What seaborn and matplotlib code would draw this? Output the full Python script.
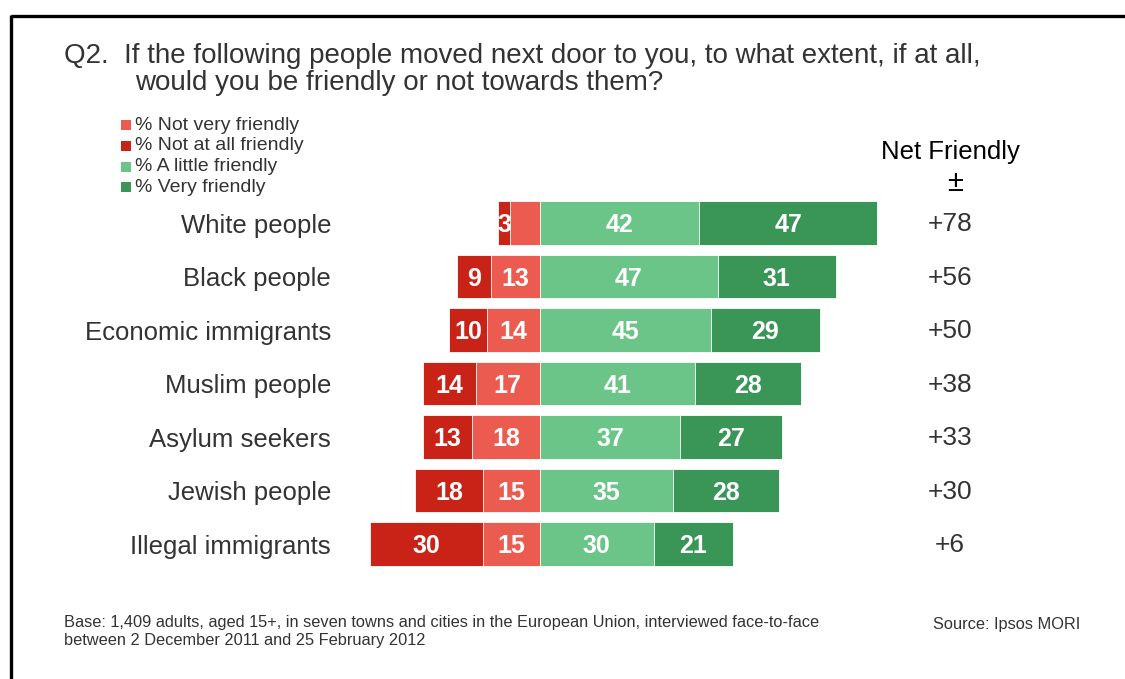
import matplotlib
matplotlib.use("Agg")
import matplotlib.pyplot as plt
from matplotlib.lines import Line2D
from matplotlib.patches import Rectangle
from matplotlib.transforms import blended_transform_factory
import seaborn as sns
import pandas as pd

# Survey responses (%), one row per group
groups = ["White people", "Black people", "Economic immigrants", "Muslim people",
          "Asylum seekers", "Jewish people", "Illegal immigrants"]
not_at_all = [3, 9, 10, 14, 13, 18, 30]
not_very = [8, 13, 14, 17, 18, 15, 15]
a_little = [42, 47, 45, 41, 37, 35, 30]
very = [47, 31, 29, 28, 27, 28, 21]
# segments shown without a value label: (group index, series)
unlabelled = {(0, "not_very")}

C_NOT_VERY = "#EB5B50"
C_NOT_AT_ALL = "#C92317"
C_LITTLE = "#6CC588"
C_VERY = "#3A9657"
TXT = "#333333"

sns.set_theme(style="white")
plt.rcParams["font.family"] = ["Liberation Sans", "DejaVu Sans"]

df = pd.DataFrame({
    "group": groups,
    "not_at_all": not_at_all,
    "not_very": not_very,
    "a_little": a_little,
    "very": very,
})
df["neg_total"] = -(df["not_at_all"] + df["not_very"])
df["neg_inner"] = -df["not_very"]
df["pos_total"] = df["a_little"] + df["very"]
df["pos_inner"] = df["a_little"]
df["net"] = df["pos_total"] + df["neg_total"]

fig = plt.figure(figsize=(11.25, 6.79), dpi=100)
ax = fig.add_axes([0.3251, 0.1594, 0.4580, 0.5515])

bar_kw = dict(y="group", orient="h", width=0.82, saturation=1, ax=ax,
              edgecolor="white", linewidth=0.6, order=groups)
# outer (cumulative) segments first, inner segments on top
sns.barplot(data=df, x="neg_total", color=C_NOT_AT_ALL, **bar_kw)
sns.barplot(data=df, x="neg_inner", color=C_NOT_VERY, **bar_kw)
sns.barplot(data=df, x="pos_total", color=C_VERY, **bar_kw)
sns.barplot(data=df, x="pos_inner", color=C_LITTLE, **bar_kw)

ax.set_xlim(-46, 90)
ax.set_ylim(6.5, -0.5)
ax.set_xlabel("")
ax.set_ylabel("")
ax.set_xticks([])
for s in ax.spines.values():
    s.set_visible(False)
ax.tick_params(axis="y", length=0, pad=25, labelsize=18.5, labelcolor=TXT)

# value labels centred in each segment
lab_kw = dict(ha="center", va="center", color="white", fontsize=18, fontweight="bold")
net_tr = blended_transform_factory(fig.transFigure, ax.transData)
for i, row in df.iterrows():
    segs = [
        ("not_at_all", -(row.not_very + row.not_at_all / 2), row.not_at_all),
        ("not_very", -row.not_very / 2, row.not_very),
        ("a_little", row.a_little / 2, row.a_little),
        ("very", row.a_little + row.very / 2, row.very),
    ]
    for name, xc, val in segs:
        if (i, name) in unlabelled:
            continue
        ax.text(xc, i + 0.04, f"{val}", **lab_kw)
    ax.text(0.8445, i + 0.02, f"{row.net:+d}", transform=net_tr,
            ha="center", va="center", fontsize=19, color=TXT)

# Net column header
fig.text(0.8445, 1 - 152 / 679, "Net Friendly", ha="center", va="center", fontsize=18.5, color="black")
fig.text(955 / 1125, 1 - 183 / 679, "±", ha="center", va="center", fontsize=21, color="black")

# title
fig.text(64 / 1125, 1 - 56 / 679,
         "Q2.  If the following people moved next door to you, to what extent, if at all,",
         ha="left", va="center", fontsize=20, color=TXT)
fig.text(135 / 1125, 1 - 83 / 679, "would you be friendly or not towards them?",
         ha="left", va="center", fontsize=20, color=TXT)

# legend
legend_items = [("% Not very friendly", C_NOT_VERY), ("% Not at all friendly", C_NOT_AT_ALL),
                ("% A little friendly", C_LITTLE), ("% Very friendly", C_VERY)]
for k, (name, col) in enumerate(legend_items):
    yc = 1 - (125 + k * 20.8) / 679
    fig.add_artist(Rectangle((121 / 1125, yc - 5 / 679), 10 / 1125, 10 / 679,
                             transform=fig.transFigure, color=col, lw=0))
    fig.text(135 / 1125, yc, name, ha="left", va="center", fontsize=14, color=TXT)

# footnotes
fig.text(64 / 1125, 1 - 622 / 679,
         "Base: 1,409 adults, aged 15+, in seven towns and cities in the European Union, interviewed face-to-face",
         ha="left", va="center", fontsize=11.8, color=TXT)
fig.text(64 / 1125, 1 - 641 / 679, "between 2 December 2011 and 25 February 2012",
         ha="left", va="center", fontsize=11.8, color=TXT)
fig.text(1080 / 1125, 1 - 624 / 679, "Source: Ipsos MORI",
         ha="right", va="center", fontsize=11.8, color=TXT)

# frame lines (top and left)
fig.add_artist(Line2D([10.5 / 1125, 1.0], [1 - 15.5 / 679, 1 - 15.5 / 679],
                      transform=fig.transFigure, color="black", lw=2.4, solid_capstyle="butt"))
fig.add_artist(Line2D([10.5 / 1125, 10.5 / 1125], [1 - 14.5 / 679, 0.0],
                      transform=fig.transFigure, color="black", lw=2.4, solid_capstyle="butt"))

fig.savefig("out.png", dpi=100, facecolor="white")
